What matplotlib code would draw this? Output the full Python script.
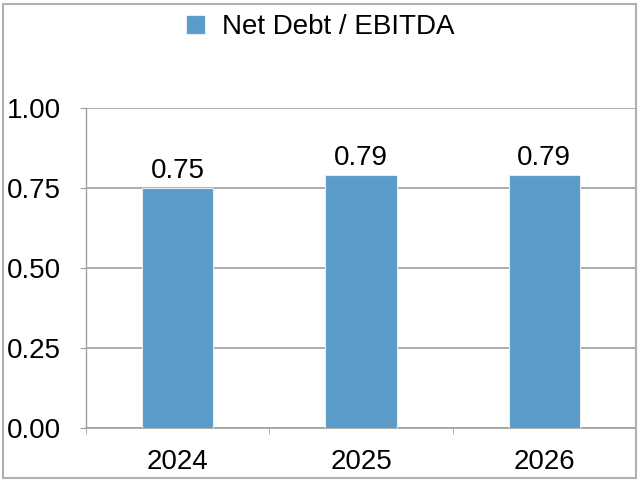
import matplotlib.pyplot as plt
from matplotlib.patches import Rectangle

years = ['2024', '2025', '2026']
values = [0.75, 0.79, 0.79]
y_ticks = [0.00, 0.25, 0.50, 0.75, 1.00]
series_name = 'Net Debt / EBITDA'

bar_color = '#5b9bc9'
grid_color = '#a0a0a0'

plt.rcParams['font.family'] = ['Liberation Sans', 'DejaVu Sans']

fig = plt.figure(figsize=(6.4, 4.82), dpi=100)
ax = fig.add_axes([86 / 640, 1 - 428 / 482, 550 / 640, 320 / 482])

x = range(len(years))
bars = ax.bar(x, values, width=0.39, color=bar_color, edgecolor='#e6eef5',
              linewidth=0.8, zorder=3, label=series_name)

for b, v in zip(bars, values):
    ax.annotate(f'{v:.2f}', (b.get_x() + b.get_width() / 2, v),
                xytext=(0, 3), textcoords='offset points',
                ha='center', va='bottom', fontsize=20)

ax.set_ylim(0, 1.0)
ax.set_xlim(-0.5, len(years) - 0.5)
ax.set_yticks(y_ticks)
ax.set_yticklabels([f'{t:.2f}' for t in y_ticks], fontsize=20)
ax.tick_params(axis='y', length=4, color=grid_color, pad=14)
ax.set_xticks(list(x))
ax.set_xticklabels(years, fontsize=20)
ax.tick_params(axis='x', length=0, pad=15)
# small ticks at the category boundaries
ax.set_xticks([-0.5, 0.5, 1.5, 2.5], minor=True)
ax.tick_params(axis='x', which='minor', length=4, color=grid_color, direction='out')

ax.grid(axis='y', color=grid_color, linewidth=1.2, zorder=0)
ax.set_axisbelow(True)
for side in ['top', 'right']:
    ax.spines[side].set_visible(False)
ax.spines['left'].set_color(grid_color)
ax.spines['bottom'].set_color(grid_color)
ax.spines['left'].set_linewidth(1.0)
ax.spines['bottom'].set_linewidth(1.2)

fig.legend(handles=[bars], labels=[series_name], loc='center',
           bbox_to_anchor=(0.5, 1 - 27 / 482), frameon=False, fontsize=20,
           handlelength=0.7, handleheight=0.7, handletextpad=0.6)

# outer frame around the whole chart
fig.patches.append(Rectangle((3 / 640, 4 / 482), 633 / 640, 474 / 482,
                             transform=fig.transFigure, fill=False,
                             edgecolor='#b0b0b0', linewidth=1.5))

fig.savefig('out.png', dpi=100)
